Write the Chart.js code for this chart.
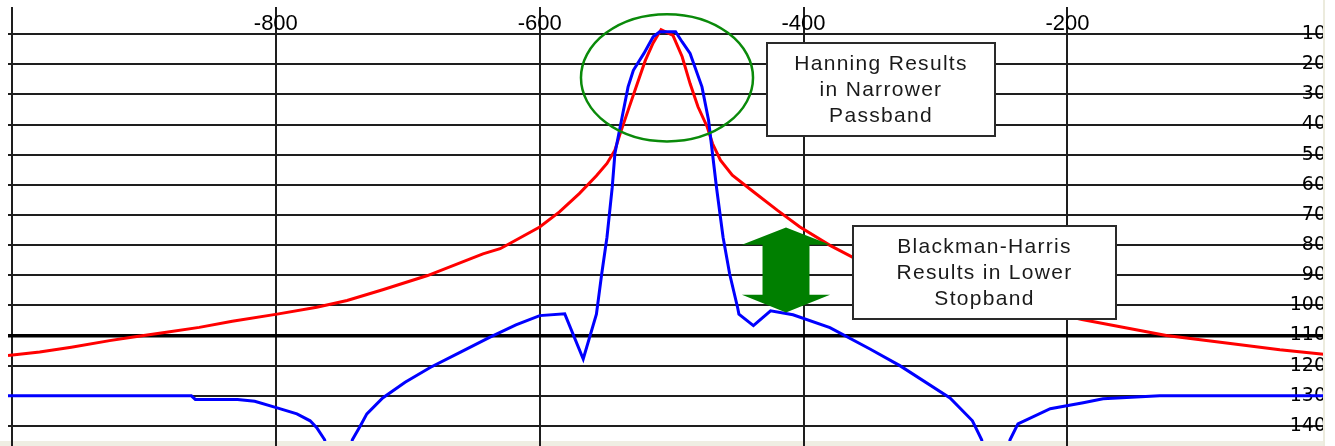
<!DOCTYPE html>
<html><head><meta charset="utf-8">
<script src="https://cdn.jsdelivr.net/npm/chart.js@4/dist/chart.umd.min.js"></script>
<style>html,body{margin:0;padding:0;background:#fff;}canvas{display:block;}</style>
</head><body>
<canvas id="c" width="1335" height="446"></canvas>
<script>
// ---- tick values ----
const xTickValues = [-1000, -800, -600, -400, -200];
const xLabelValues = [-800, -600, -400, -200];
const yTickValues = [10, 20, 30, 40, 50, 60, 70, 80, 90, 100, 110, 120, 130, 140];

// ---- Hanning window response (red) ----
const hanningX = [-1003, -979, -955, -926, -908, -883, -858, -833, -799, -769, -746, -719, -685, -643, -630, -622, -600, -585, -570, -557, -549, -543, -539, -533, -526, -520, -514, -508, -499, -492, -486, -480, -473, -469, -463, -454, -438, -420, -403, -380, -363, -327, -281, -236, -189, -125, -75, -39, -4];
const hanningY = [116.6, 115.5, 113.9, 111.7, 110.5, 108.9, 107.3, 105.3, 102.9, 100.6, 98.4, 94.8, 90.1, 82.9, 81.2, 79.3, 74, 69, 62.9, 57, 52.9, 48.5, 43, 35.3, 26.4, 18.8, 12.9, 8.5, 10.4, 17.5, 26.4, 34.1, 40.8, 46.3, 51.8, 56.8, 62.3, 68.4, 73.9, 80.1, 84, 89.5, 95, 100, 104.7, 110, 112.7, 114.7, 116.3];

// ---- Blackman-Harris window response (blue) ----
const bhX = [-1003, -864, -861, -829, -816, -799, -784, -774, -769, -763, -752.5, -742, -736, -731, -719, -702, -683, -660, -638, -618, -600, -581, -567, -557, -553, -549, -545, -543, -538, -533, -529, -521, -514, -509, -497, -492, -486, -477, -472, -469, -466, -461, -456, -450, -449, -438, -425, -408, -380, -350, -327, -289, -272, -265, -254, -243.5, -237.5, -213, -188, -173, -130, -4];
const bhY = [130, 130, 131.2, 131.2, 131.8, 134, 136, 138.3, 140.6, 144.6, 170, 144.6, 140, 136, 130.7, 125.5, 120.6, 115.5, 110.6, 106.5, 103.4, 102.8, 117.8, 102.9, 89.6, 77.4, 60.8, 49.7, 38.6, 27.5, 22, 16.4, 10.9, 9.2, 9.2, 12.6, 16.4, 27.5, 38.6, 49.7, 60.8, 77.4, 89.6, 100.7, 102.9, 106.7, 101.8, 103.1, 107.4, 114.4, 120, 130.7, 138.3, 144.6, 170, 144.6, 139.3, 134.3, 132.3, 131, 130, 130];

// ---- annotations (data units) ----
const ellipseNote = { x: -503.5, y: 24.5, rx: 65.2, ry: 21.1 };
const hanningNote = { x0: -427.7, x1: -254.9, y0: 13.1, y1: 43.9, lines: ['Hanning Results', 'in Narrower', 'Passband'] };
const bhNote = { x0: -362.5, x1: -163.2, y0: 73.5, y1: 104.4, lines: ['Blackman-Harris', 'Results in Lower', 'Stopband'] };
const arrowNote = { x: -413.3, yTop: 74.2, yHeadTop: 79.9, yHeadBottom: 96.5, yBottom: 102.4, headHalf: 33.4, shaftHalf: 17.8 };

const toPoints = (xs, ys) => xs.map((x, i) => ({ x: x, y: ys[i] }));

const framePlugin = {
  id: 'frame',
  beforeDraw(chart) {
    const c = chart.ctx;
    c.save();
    c.fillStyle = '#ffffff';
    c.fillRect(0, 0, chart.width, chart.height);
    c.fillStyle = '#efeee3';
    c.fillRect(0, 441, 1323, 5);
    c.restore();
  },
  afterDraw(chart) {
    const c = chart.ctx;
    c.save();
    c.fillStyle = '#ffffff';
    c.fillRect(1325, 0, chart.width - 1325, chart.height);
    c.fillStyle = '#ecebdd';
    c.fillRect(1323, 0, 2, chart.height);
    c.restore();
  }
};

const notesPlugin = {
  id: 'notes',
  afterDatasetsDraw(chart) {
    const c = chart.ctx;
    const xs = chart.scales.x, ys = chart.scales.y;
    c.save();
    // ellipse
    const cx = xs.getPixelForValue(ellipseNote.x), cy = ys.getPixelForValue(ellipseNote.y);
    const rx = Math.abs(xs.getPixelForValue(ellipseNote.x + ellipseNote.rx) - cx);
    const ry = Math.abs(ys.getPixelForValue(ellipseNote.y + ellipseNote.ry) - cy);
    c.beginPath();
    c.ellipse(cx, cy, rx, ry, 0, 0, Math.PI * 2);
    c.strokeStyle = '#0a8a0a';
    c.lineWidth = 2.5;
    c.stroke();
    // arrow
    const ax = xs.getPixelForValue(arrowNote.x);
    const hh = Math.abs(xs.getPixelForValue(arrowNote.x + arrowNote.headHalf) - ax);
    const sh = Math.abs(xs.getPixelForValue(arrowNote.x + arrowNote.shaftHalf) - ax);
    const yT = ys.getPixelForValue(arrowNote.yTop), yHT = ys.getPixelForValue(arrowNote.yHeadTop);
    const yHB = ys.getPixelForValue(arrowNote.yHeadBottom), yB = ys.getPixelForValue(arrowNote.yBottom);
    c.beginPath();
    c.moveTo(ax, yT);
    c.lineTo(ax + hh, yHT);
    c.lineTo(ax + sh, yHT);
    c.lineTo(ax + sh, yHB);
    c.lineTo(ax + hh, yHB);
    c.lineTo(ax, yB);
    c.lineTo(ax - hh, yHB);
    c.lineTo(ax - sh, yHB);
    c.lineTo(ax - sh, yHT);
    c.lineTo(ax - hh, yHT);
    c.closePath();
    c.fillStyle = '#007f00';
    c.fill();
    // boxes
    [hanningNote, bhNote].forEach(n => {
      const l = Math.round(xs.getPixelForValue(n.x0)), r = Math.round(xs.getPixelForValue(n.x1));
      const t = Math.round(ys.getPixelForValue(n.y0)), b = Math.round(ys.getPixelForValue(n.y1));
      c.fillStyle = '#ffffff';
      c.fillRect(l, t, r - l, b - t);
      c.strokeStyle = '#2a2a2a';
      c.lineWidth = 2;
      c.strokeRect(l, t, r - l, b - t);
      c.fillStyle = '#1a1a1a';
      c.font = '21px "Liberation Sans", Arial, sans-serif';
      try { c.letterSpacing = '1.3px'; } catch (e) {}
      c.textAlign = 'center';
      c.textBaseline = 'alphabetic';
      n.lines.forEach((s, i) => c.fillText(s, (l + r) / 2, t + 27 + i * 26));
    });
    c.restore();
  }
};

new Chart(document.getElementById('c'), {
  type: 'line',
  data: {
    datasets: [
      { label: 'Blackman-Harris', data: toPoints(bhX, bhY), borderColor: '#0000ff', borderWidth: 3, pointRadius: 0, tension: 0, fill: false },
      { label: 'Hanning', data: toPoints(hanningX, hanningY), borderColor: '#ff0000', borderWidth: 3, pointRadius: 0, tension: 0, fill: false }
    ]
  },
  options: {
    responsive: false,
    animation: false,
    devicePixelRatio: 1,
    layout: { padding: { left: 8, right: 9, top: 3, bottom: 0 } },
    plugins: { legend: { display: false }, tooltip: { enabled: false } },
    scales: {
      x: {
        type: 'linear', position: 'bottom', min: -1003, max: -4,
        afterBuildTicks: a => { a.ticks = xTickValues.map(v => ({ value: v })); },
        afterFit: s => { s.height = 5; s.paddingLeft = 0; s.paddingRight = 0; },
        grid: { color: '#1e1e1e', lineWidth: 2, drawTicks: true, tickLength: 5, tickColor: '#1e1e1e', tickWidth: 2 },
        border: { display: false },
        ticks: { display: false }
      },
      xTop: {
        type: 'linear', position: 'top', min: -1003, max: -4,
        afterBuildTicks: a => { a.ticks = xLabelValues.map(v => ({ value: v })); },
        afterFit: s => { s.height = 4; s.paddingLeft = 0; s.paddingRight = 0; },
        grid: { display: false },
        border: { display: false },
        ticks: { mirror: true, padding: 4, color: '#000', font: { family: 'Liberation Sans', size: 22 }, callback: v => String(v) }
      },
      y: {
        type: 'linear', position: 'right', reverse: true, min: 1, max: 145,
        afterBuildTicks: a => { a.ticks = yTickValues.map(v => ({ value: v })); },
        afterFit: s => { s.width = 0; s.paddingTop = 0; s.paddingBottom = 0; },
        grid: { color: c => (c.tick && c.tick.value === 110) ? '#000' : '#1e1e1e', lineWidth: c => (c.tick && c.tick.value === 110) ? 3.5 : 2, drawTicks: false },
        border: { display: false },
        ticks: { mirror: true, padding: 0, color: '#000', font: { family: 'DejaVu Sans', size: 19 }, callback: v => String(v) }
      }
    }
  },
  plugins: [framePlugin, notesPlugin]
});
</script>
</body></html>
